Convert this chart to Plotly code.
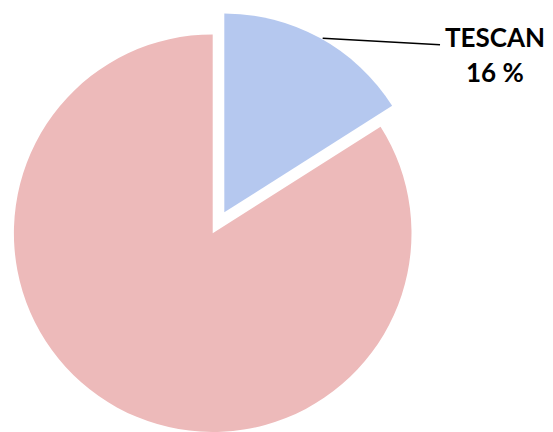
import plotly.graph_objects as go

# Data
labels = ["TESCAN", "Other"]
values = [16, 84]
label_suffix = " %"

W, H = 553, 432

pink = "#edbaba"
blue = "#b5c8ef"
clear = "rgba(0,0,0,0)"


def dom(cx, cy, r):
    return dict(x=[(cx - r) / W, (cx + r) / W],
                y=[max(0, 1 - (cy + r) / H), min(1, 1 - (cy - r) / H)])


fig = go.Figure()
# Remaining share (not pulled)
fig.add_trace(go.Pie(
    labels=labels, values=values, sort=False, direction="clockwise", rotation=0,
    marker=dict(colors=[clear, pink], line=dict(width=0)),
    textinfo="none", hoverinfo="label+percent", showlegend=False,
    domain=dom(212.7, 233.2, 198.8),
))
# Highlighted share (pulled out)
fig.add_trace(go.Pie(
    labels=labels, values=values, sort=False, direction="clockwise", rotation=0,
    marker=dict(colors=[blue, clear], line=dict(width=0)),
    textinfo="none", hoverinfo="label+percent", showlegend=False,
    domain=dom(224.3, 212.3, 198.8),
))

fig.add_shape(type="line", xref="paper", yref="paper",
              x0=322.7 / W, y0=1 - 38.3 / H, x1=440 / W, y1=1 - 44.8 / H,
              line=dict(color="black", width=1.6))

font = dict(family="Lato", size=26, color="black")
fig.add_annotation(
    xref="paper", yref="paper", x=494.5 / W, y=1 - 37 / H,
    xanchor="center", yanchor="middle", showarrow=False,
    text=f"<b>{labels[0]}</b>", font=font,
)
fig.add_annotation(
    xref="paper", yref="paper", x=494.5 / W, y=1 - 72 / H,
    xanchor="center", yanchor="middle", showarrow=False,
    text=f"<b>{values[0]}{label_suffix}</b>", font=font,
)

fig.update_layout(
    width=W, height=H, margin=dict(l=0, r=0, t=0, b=0),
    paper_bgcolor="white", plot_bgcolor="white",
)

fig.write_html("out.html", config={"displayModeBar": False},
               post_script="document.body.style.margin='0';")
